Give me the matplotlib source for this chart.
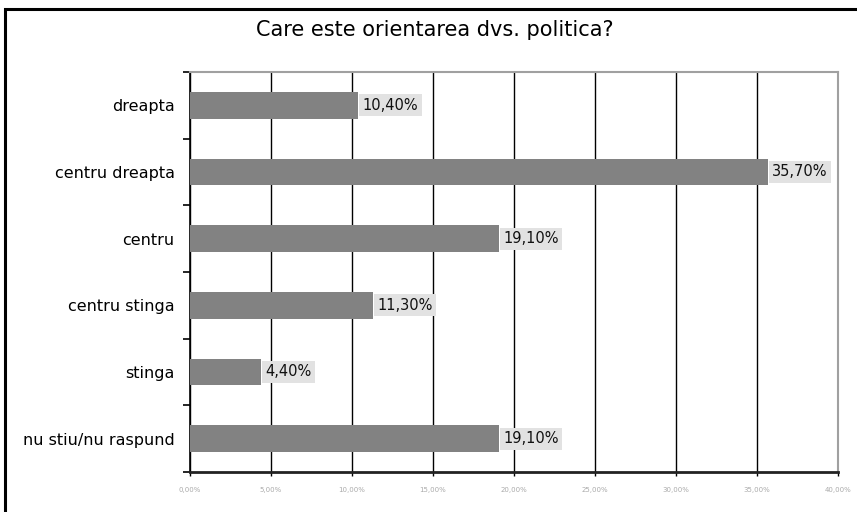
import numpy as np
import matplotlib.pyplot as plt
from matplotlib.patches import Rectangle

categorii = ['dreapta', 'centru dreapta', 'centru', 'centru stinga', 'stinga', 'nu stiu/nu raspund']
procente = [10.4, 35.7, 19.1, 11.3, 4.4, 19.1]
etichete = ['10,40%', '35,70%', '19,10%', '11,30%', '4,40%', '19,10%']
xticks = [0, 5, 10, 15, 20, 25, 30, 35, 40]
xlabels = ['0,00%', '5,00%', '10,00%', '15,00%', '20,00%', '25,00%', '30,00%', '35,00%', '40,00%']

fig = plt.figure(figsize=(8.57, 5.12), dpi=100)
fig.patches.append(Rectangle((5/857, -0.1), 1.2, 1.1 - 9/512, transform=fig.transFigure,
                             fill=False, edgecolor='black', linewidth=2.2))

ax = fig.add_axes([190/857, 1 - 472/512, 648/857, 400/512])
y = np.arange(len(categorii))
ax.barh(y, procente, height=0.4, color='#828282', zorder=3)

for i, (v, t) in enumerate(zip(procente, etichete)):
    ax.text(v + 0.25, i, t, va='center', ha='left', fontsize=10.5, color='#111111',
            bbox=dict(facecolor='#e2e2e2', edgecolor='none', pad=2.5), zorder=4)

ax.set_xlim(0, 40)
ax.set_ylim(len(categorii) - 0.5, -0.5)
ax.set_xticks(xticks)
ax.set_xticklabels(xlabels, fontsize=5, color='#aaaaaa')
ax.set_yticks(y)
ax.set_yticklabels(categorii, fontsize=11.5)
ax.tick_params(axis='y', length=0, pad=11)
ax.set_yticks(np.arange(-0.5, len(categorii)), minor=True)
ax.tick_params(axis='y', which='minor', length=5, width=1.2, direction='out')
ax.tick_params(axis='x', length=3, width=1, direction='out', pad=8)

ax.grid(axis='x', color='black', linewidth=1, zorder=0)
for s in ['top', 'right']:
    ax.spines[s].set_color('#a0a0a0')
    ax.spines[s].set_linewidth(1.5)
ax.spines['left'].set_linewidth(1.2)
ax.spines['bottom'].set_linewidth(2)
ax.spines['bottom'].set_color('#222222')

fig.text(435/857, 1 - 30/512, 'Care este orientarea dvs. politica?', ha='center', va='center',
         fontsize=15, fontweight='medium')

fig.savefig('out.png', dpi=100)
